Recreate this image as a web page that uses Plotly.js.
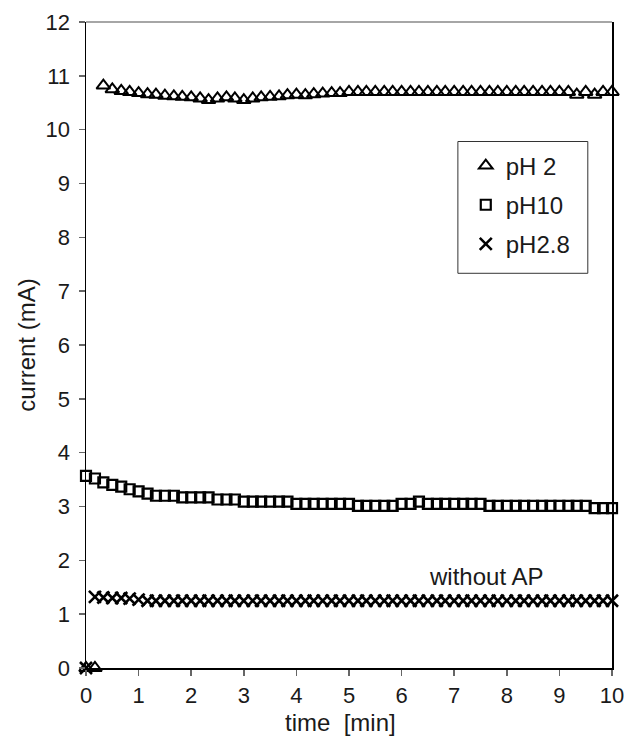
<!DOCTYPE html>
<html>
<head>
<meta charset="utf-8">
<script src="https://cdn.plot.ly/plotly-3.0.1.min.js"></script>
<style>
html,body{margin:0;padding:0;background:#fff;}
#chart{width:626px;height:743px;}
</style>
</head>
<body>
<div id="chart"></div>
<script>
var time = [0,0.17,0.33,0.5,0.67,0.83,1,1.17,1.33,1.5,1.67,1.83,2,2.17,2.33,2.5,2.67,2.83,3,3.17,3.33,3.5,3.67,3.83,4,4.17,4.33,4.5,4.67,4.83,5,5.17,5.33,5.5,5.67,5.83,6,6.17,6.33,6.5,6.67,6.83,7,7.17,7.33,7.5,7.67,7.83,8,8.17,8.33,8.5,8.67,8.83,9,9.17,9.33,9.5,9.67,9.83,10];

var pH2 = [0,0,10.82,10.75,10.72,10.70,10.68,10.66,10.65,10.63,10.62,10.61,10.60,10.58,10.55,10.58,10.60,10.58,10.55,10.58,10.60,10.61,10.62,10.64,10.65,10.64,10.66,10.67,10.68,10.68,
10.70,10.70,10.70,10.70,10.70,10.70,10.70,10.70,10.70,10.70,10.70,10.70,10.70,10.70,10.70,10.70,10.70,10.70,10.70,10.70,10.70,10.70,10.70,10.70,10.70,
10.70,10.65,10.70,10.65,10.70,10.70];

var pH10 = [3.57,3.52,3.45,3.40,3.37,3.32,3.28,3.24,3.20,3.20,3.20,3.17,3.17,3.17,3.17,3.13,3.13,3.13,3.09,3.09,3.09,3.09,3.09,3.09,
3.05,3.05,3.05,3.05,3.05,3.05,3.05,
3.01,3.01,3.01,3.01,3.01,
3.05,3.05,3.09,
3.05,3.05,3.05,3.05,3.05,3.05,3.05,
3.01,3.01,3.01,3.01,3.01,3.01,3.01,3.01,3.01,3.01,3.01,3.01,
2.97,2.97,2.97];

var pH28 = [0,1.32,1.31,1.30,1.30,1.29,1.27,
1.25,1.25,1.25,1.25,1.25,1.25,1.25,1.25,1.25,1.25,1.25,1.25,1.25,1.25,1.25,1.25,1.25,1.25,
1.25,1.25,1.25,1.25,1.25,1.25,1.25,1.25,1.25,1.25,1.25,1.25,1.25,1.25,1.25,1.25,1.25,1.25,
1.25,1.25,1.25,1.25,1.25,1.25,1.25,1.25,1.25,1.25,1.25,1.25,1.25,1.25,1.25,1.25,1.25,1.25];

var seriesNames = ['pH 2','pH10','pH2.8'];
var xTickVals = [0,1,2,3,4,5,6,7,8,9,10];
var yTickVals = [0,1,2,3,4,5,6,7,8,9,10,11,12];

var FONT = 'Liberation Sans, Arial, Helvetica, sans-serif';
var TXT = '#1a1a1a';

var traces = [
  {x: time, y: pH2, name: seriesNames[0], type: 'scatter', mode: 'markers', cliponaxis: false, legendgroup: 'a',
   marker: {symbol: 'triangle-up-open', size: 12, color: '#000', line: {color: '#000', width: 2}}},
  {x: time, y: pH10, name: seriesNames[1], type: 'scatter', mode: 'markers', cliponaxis: false, legendgroup: 'b',
   marker: {symbol: 'square-open', size: 10, color: '#000', line: {color: '#000', width: 2.2}}},
  {x: time, y: pH28, name: seriesNames[2], type: 'scatter', mode: 'markers', cliponaxis: false, legendgroup: 'c',
   marker: {symbol: 'x-thin-open', size: 12, color: '#000', line: {color: '#000', width: 2.6}}}
];

var layout = {
  width: 626, height: 743,
  margin: {l: 86, r: 14, t: 22, b: 75, pad: 0},
  paper_bgcolor: '#fff', plot_bgcolor: '#fff',
  font: {family: FONT, size: 22, color: TXT},
  showlegend: true,
  legend: {x: 0.722, y: 0.812, xanchor: 'left', yanchor: 'top', bgcolor: 'rgba(0,0,0,0)',
           borderwidth: 0, font: {family: FONT, size: 24, color: TXT},
           tracegroupgap: 5, traceorder: 'grouped'},
  xaxis: {range: [0, 10], tickvals: xTickVals, ticks: 'outside', ticklen: 6, tickcolor: '#666', tickwidth: 1.5,
          showline: true, linecolor: '#000', linewidth: 1.5, showgrid: false, zeroline: false,
          ticklabelstandoff: 1, tickfont: {family: FONT, size: 22, color: TXT}},
  yaxis: {range: [0, 12], tickvals: yTickVals, ticks: 'outside', ticklen: 6, tickcolor: '#666', tickwidth: 1.5,
          showline: true, linecolor: '#000', linewidth: 1.5, mirror: true, showgrid: false, zeroline: false,
          ticklabelstandoff: 4, tickfont: {family: FONT, size: 22, color: TXT},
          title: {text: 'current (mA)', font: {family: FONT, size: 24, color: TXT}, standoff: 3}},
  shapes: [
    {type: 'line', xref: 'paper', yref: 'paper', x0: 0, x1: 1, y0: 1, y1: 1, line: {color: '#888', width: 1.5}},
    {type: 'rect', xref: 'paper', yref: 'paper', x0: 0.707, x1: 0.954, y0: 0.611, y1: 0.815,
     line: {color: '#333', width: 1}, fillcolor: '#fff', layer: 'above'}
  ],
  annotations: [
    {x: 7.6, y: 1.7, xref: 'x', yref: 'y', text: 'without AP', showarrow: false,
     font: {family: FONT, size: 24, color: TXT}},
    {x: 0.484, y: -0.0845, xref: 'paper', yref: 'paper', xanchor: 'center', yanchor: 'middle',
     text: 'time&nbsp;&nbsp;[min]', showarrow: false, font: {family: FONT, size: 24, color: TXT}}
  ]
};

Plotly.newPlot('chart', traces, layout, {displayModeBar: false, staticPlot: true});
</script>
</body>
</html>
